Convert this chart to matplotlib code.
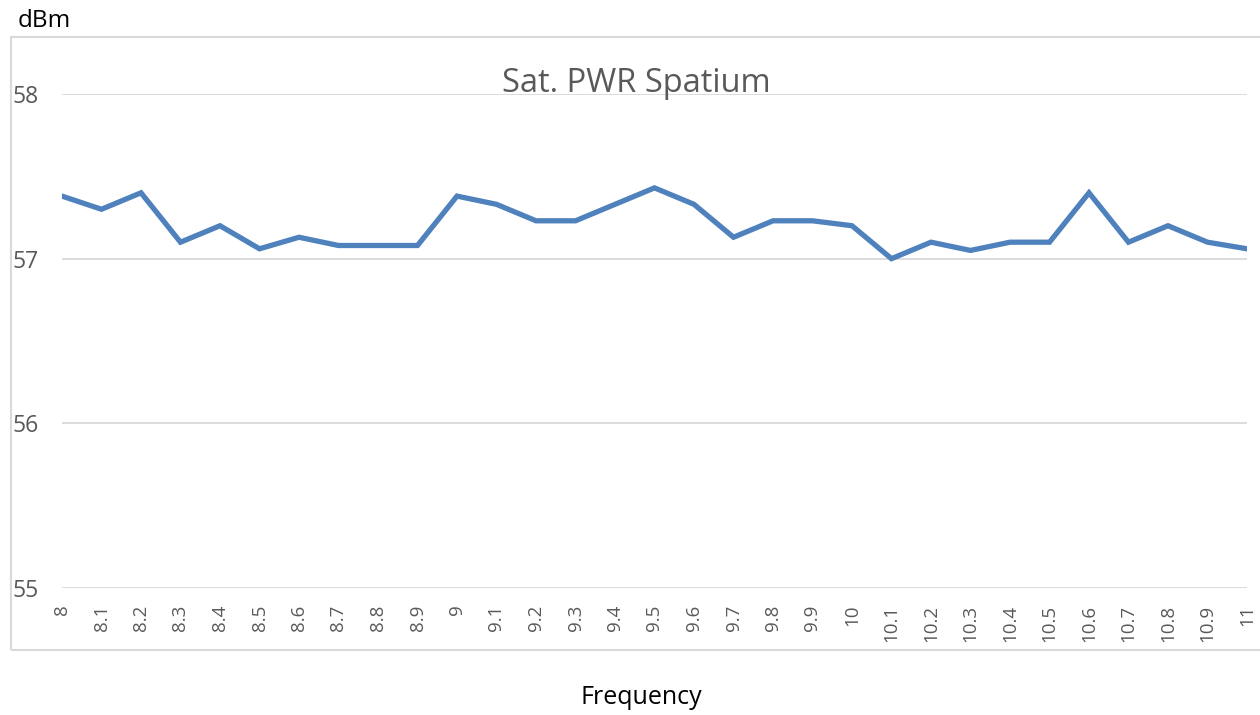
import matplotlib
matplotlib.use("Agg")
from matplotlib import pyplot as plt
from matplotlib.patches import Rectangle

# frequency steps (GHz) and saturated power (dBm)
freq_labels = ["8", "8.1", "8.2", "8.3", "8.4", "8.5", "8.6", "8.7", "8.8", "8.9",
               "9", "9.1", "9.2", "9.3", "9.4", "9.5", "9.6", "9.7", "9.8", "9.9",
               "10", "10.1", "10.2", "10.3", "10.4", "10.5", "10.6", "10.7", "10.8", "10.9", "11"]
sat_pwr = [57.38, 57.30, 57.40, 57.10, 57.20, 57.06, 57.13, 57.08, 57.08, 57.08,
           57.38, 57.33, 57.23, 57.23, 57.33, 57.43, 57.33, 57.13, 57.23, 57.23,
           57.20, 57.00, 57.10, 57.05, 57.10, 57.10, 57.40, 57.10, 57.20, 57.10, 57.06]
y_ticks = [55, 56, 57, 58]

plt.rcParams["font.family"] = ["Open Sans", "DejaVu Sans"]
gray = "#595959"

fig = plt.figure(figsize=(12.6, 7.15), dpi=100)

# outer chart frame like excel
fig.patches.append(Rectangle((11 / 1260, 1 - 650 / 715), 1.2, (650 - 37) / 715,
                             transform=fig.transFigure, fill=False,
                             edgecolor="#d9d9d9", linewidth=1.5))

ax = fig.add_axes([62 / 1260, 1 - 588 / 715, (1247 - 62) / 1260, (588 - 94) / 715])
x = list(range(len(freq_labels)))
ax.plot(x, sat_pwr, color="#4f81bd", linewidth=3.8, solid_joinstyle="miter")

ax.set_xlim(0, len(freq_labels) - 1)
ax.set_ylim(55, 58)
ax.set_yticks(y_ticks)
ax.set_yticklabels([str(v) for v in y_ticks], color=gray, fontsize=16.5)
ax.set_xticks(x)
ax.set_xticklabels(freq_labels, rotation=90, va="top", ha="center", color=gray, fontsize=13.5)
ax.tick_params(axis="both", length=0)
ax.tick_params(axis="y", pad=17)
ax.tick_params(axis="x", pad=12)
ax.yaxis.grid(True, color="#d9d9d9", linewidth=1.3)
ax.set_axisbelow(True)
for s in ax.spines.values():
    s.set_visible(False)

fig.text(636 / 1260, 1 - 92 / 715, "Sat. PWR Spatium", ha="center", va="baseline",
         color=gray, fontsize=23.5)
fig.text(18 / 1260, 1 - 21 / 715, "dBm", ha="left", va="center", color="black", fontsize=17.5)
fig.text(641 / 1260, 1 - 698 / 715, "Frequency", ha="center", va="center", color="black", fontsize=18)

plt.savefig("out.png", dpi=100)
plt.close(fig)
